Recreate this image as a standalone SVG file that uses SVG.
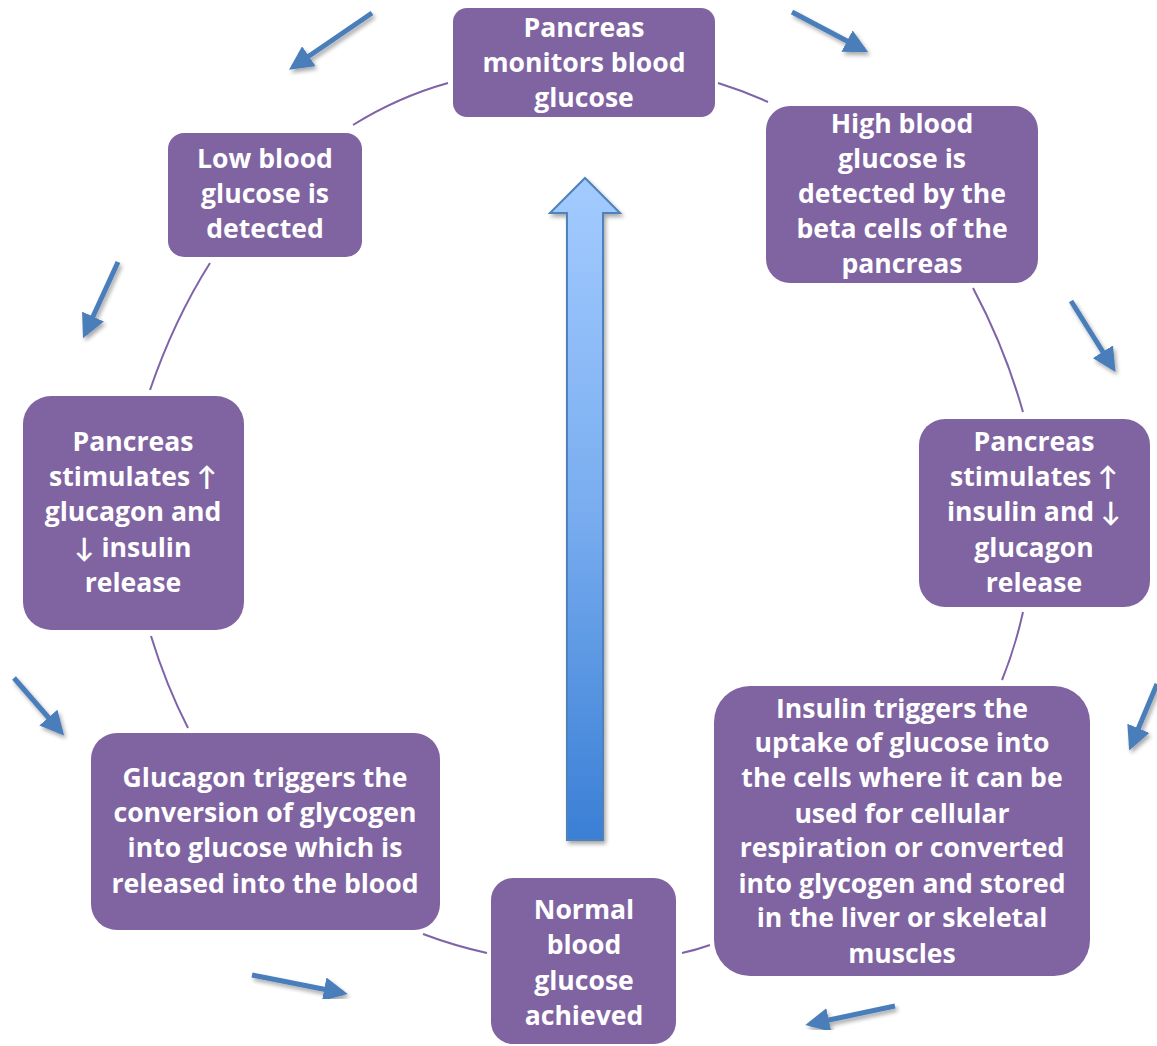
<svg xmlns="http://www.w3.org/2000/svg" width="1157" height="1046" viewBox="0 0 1157 1046">
<style>
.node rect{fill:#8064A2;}
.node text{fill:#fff;font-family:"Open Sans",Lato,"Liberation Sans",sans-serif;font-weight:bold;font-size:26.6px;text-anchor:middle;}
.arc{fill:none;stroke:#7F63A8;stroke-width:2;}
.cyc{stroke:#4A7EBB;stroke-width:5;fill:none;marker-end:url(#ah);filter:url(#sh);}
</style>
<defs>
<marker id="ah" viewBox="0 0 10 10" refX="8" refY="5" markerWidth="4.8" markerHeight="4.8" orient="auto" markerUnits="strokeWidth">
<path d="M0,0 L10,5 L0,10 z" fill="#4A7EBB"/>
</marker>
<linearGradient id="bg" x1="0" y1="0" x2="0" y2="1">
<stop offset="0" stop-color="#A3CBFF"/>
<stop offset="0.5" stop-color="#79ADF0"/>
<stop offset="1" stop-color="#3A7FD5"/>
</linearGradient>
<filter id="sh" x="-20%" y="-20%" width="150%" height="150%">
<feGaussianBlur in="SourceAlpha" stdDeviation="2"/>
<feOffset dx="2" dy="3"/>
<feComponentTransfer><feFuncA type="linear" slope="0.35"/></feComponentTransfer>
<feMerge><feMergeNode/><feMergeNode in="SourceGraphic"/></feMerge>
</filter>
</defs>
<rect width="1157" height="1046" fill="#fff"/>
<g id="connectors">
<path class="arc" d="M718,83 Q744,91 768,102"/>
<path class="arc" d="M973,288 Q1005,348 1023,412"/>
<path class="arc" d="M1023,612 Q1015,648 1002,680"/>
<path class="arc" d="M682,953 Q696,950 710,945"/>
<path class="arc" d="M423,934 Q455,946 487,953"/>
<path class="arc" d="M151,636 Q166,685 188,728"/>
<path class="arc" d="M150,390 Q174,320 210,263"/>
<path class="arc" d="M448,83 Q398,97 353,125"/>
<line class="cyc" x1="372" y1="13" x2="293" y2="67"/>
<line class="cyc" x1="792" y1="12" x2="864" y2="50"/>
<line class="cyc" x1="118" y1="262" x2="85" y2="334"/>
<line class="cyc" x1="1071" y1="301" x2="1113" y2="368"/>
<line class="cyc" x1="1157" y1="684" x2="1131" y2="746"/>
<line class="cyc" x1="14" y1="678" x2="61" y2="732"/>
<line class="cyc" x1="252" y1="975" x2="343" y2="993"/>
<line class="cyc" x1="895" y1="1006" x2="810" y2="1024"/>
<path d="M567,840 L567,213 L550,213 L585,178 L620,213 L603,213 L603,840 Z" fill="url(#bg)" stroke="#4F81BD" stroke-width="2" filter="url(#sh)"/>
</g>
<g id="n1" class="node"><rect x="453" y="8" width="262" height="109" rx="14"/>
<text x="584" y="37">Pancreas</text><text x="584" y="72">monitors blood</text><text x="584" y="107">glucose</text></g>
<g id="n2" class="node"><rect x="168" y="133" width="194" height="124" rx="16"/>
<text x="265" y="168">Low blood</text><text x="265" y="203">glucose is</text><text x="265" y="238">detected</text></g>
<g id="n3" class="node"><rect x="766" y="106" width="272" height="177" rx="24"/>
<text x="902" y="133">High blood</text><text x="902" y="168">glucose is</text><text x="902" y="203">detected by the</text><text x="902" y="238">beta cells of the</text><text x="902" y="273">pancreas</text></g>
<g id="n4" class="node"><rect x="23" y="396" width="221" height="234" rx="28"/>
<text x="133" y="451">Pancreas</text><text x="133" y="486">stimulates ↑</text><text x="133" y="521">glucagon and</text><text x="133" y="557">↓ insulin</text><text x="133" y="592">release</text></g>
<g id="n5" class="node"><rect x="919" y="419" width="231" height="188" rx="26"/>
<text x="1034" y="451">Pancreas</text><text x="1034" y="486">stimulates ↑</text><text x="1034" y="521">insulin and ↓</text><text x="1034" y="557">glucagon</text><text x="1034" y="592">release</text></g>
<g id="n6" class="node"><rect x="91" y="733" width="349" height="197" rx="26"/>
<text x="265" y="787">Glucagon triggers the</text><text x="265" y="822">conversion of glycogen</text><text x="265" y="857">into glucose which is</text><text x="265" y="893">released into the blood</text></g>
<g id="n7" class="node"><rect x="714" y="686" width="376" height="290" rx="36"/>
<text x="902" y="718">Insulin triggers the</text><text x="902" y="752">uptake of glucose into</text><text x="902" y="787">the cells where it can be</text><text x="902" y="823">used for cellular</text><text x="902" y="857">respiration or converted</text><text x="902" y="893">into glycogen and stored</text><text x="902" y="927">in the liver or skeletal</text><text x="902" y="963">muscles</text></g>
<g id="n8" class="node"><rect x="491" y="878" width="185" height="166" rx="22"/>
<text x="584" y="919">Normal</text><text x="584" y="954">blood</text><text x="584" y="990">glucose</text><text x="584" y="1025">achieved</text></g>
</svg>
